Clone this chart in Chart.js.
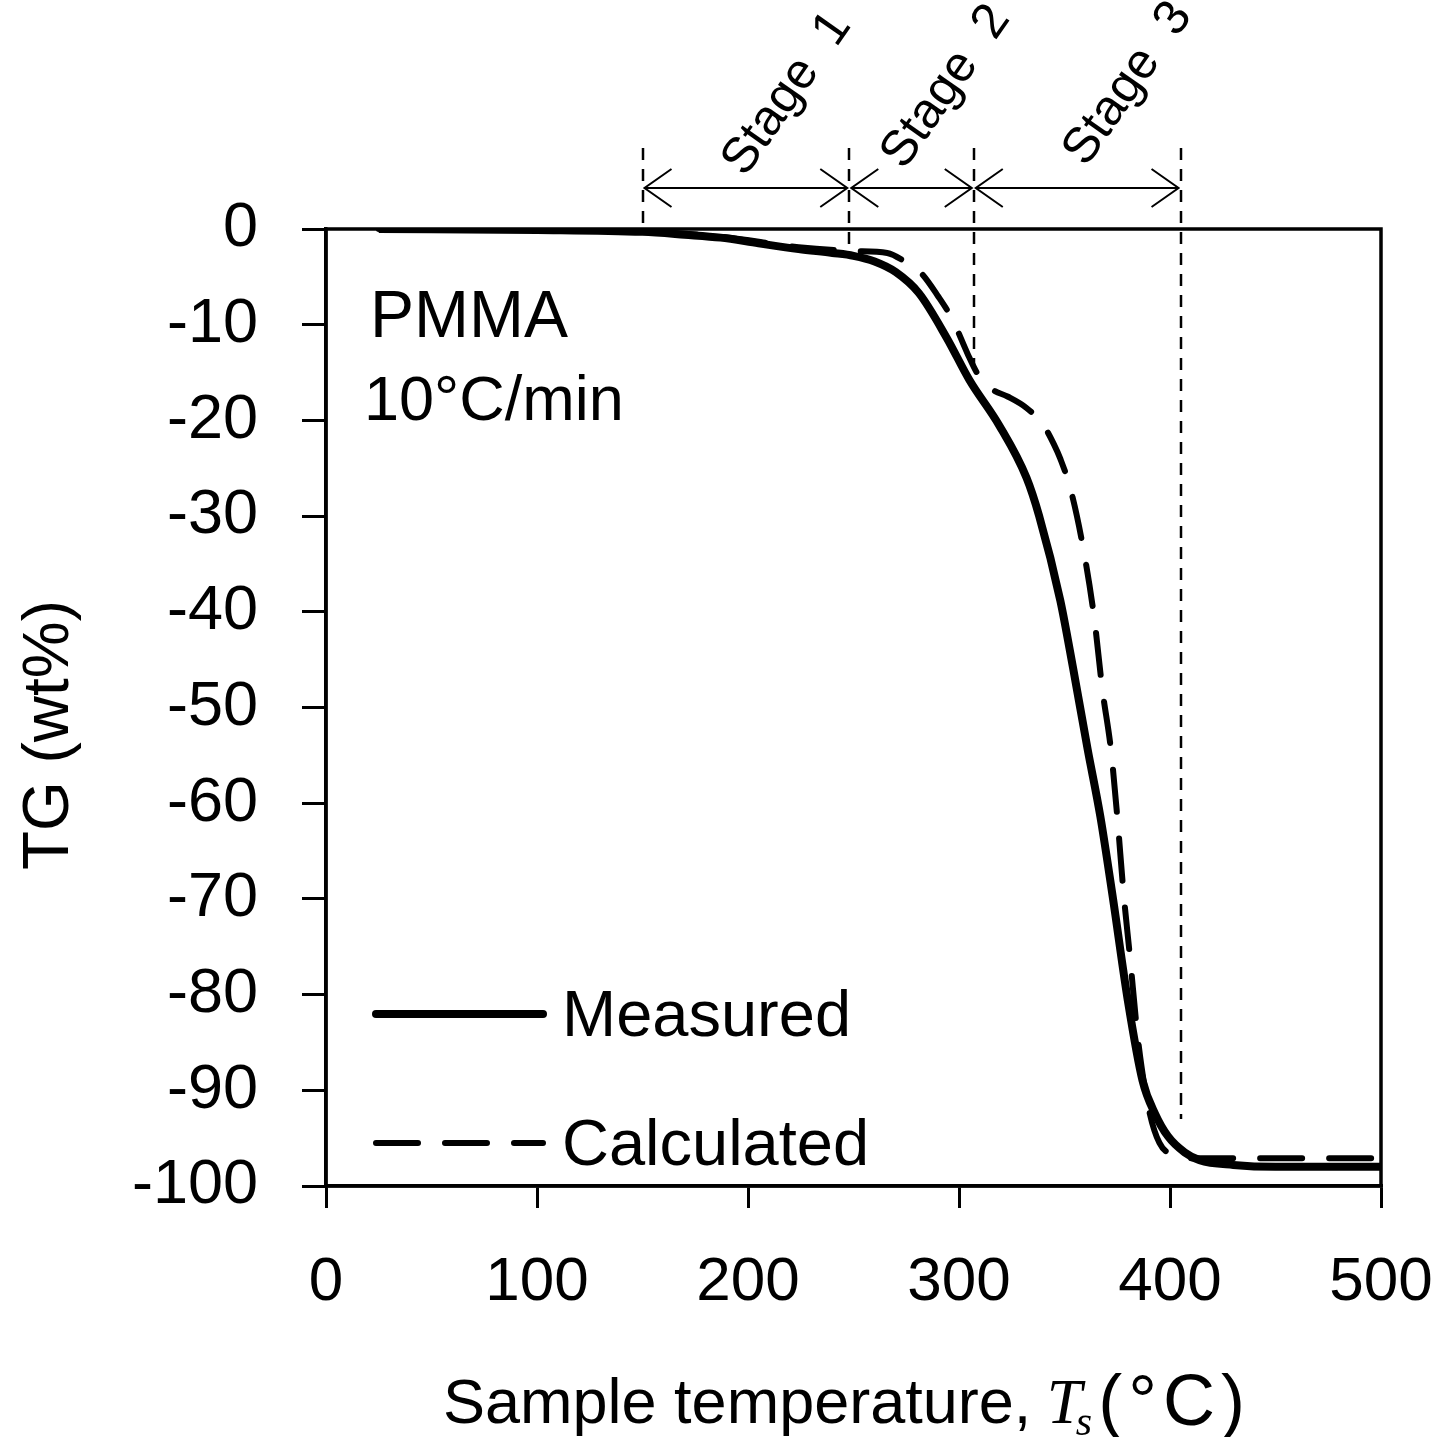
<!DOCTYPE html>
<html>
<head>
<meta charset="utf-8">
<script src="https://cdn.jsdelivr.net/npm/chart.js@4.4.0/dist/chart.umd.min.js"></script>
<style>
    body { margin: 0; background: #fff; }
    #wrap { width: 1452px; height: 1437px; position: relative; }
</style>
</head>
<body>
<div id="wrap"><canvas id="tgChart"></canvas></div>
<script>
// measured TG curve (sample temperature in °C, mass change in wt%)
const measuredTemp = [25, 100, 150, 170, 187, 205, 224, 240, 250, 260, 270, 281, 294, 305, 319, 332, 338, 348, 354, 361, 367, 373, 380, 387, 393, 399, 407, 414, 430, 450, 500];
const measuredTG = [0, -0.1, -0.3, -0.6, -0.9, -1.5, -2.1, -2.5, -2.8, -3.4, -4.5, -6.7, -11.3, -15.8, -20.5, -26, -30, -38.8, -45.8, -54.4, -61.4, -70, -80.6, -89, -92.5, -94.8, -96.5, -97.3, -97.8, -98, -98];

// calculated TG curve
const calcTemp = [25, 150, 187, 224, 250, 266, 275, 282, 290, 297, 304, 309, 316, 323, 332, 340, 345, 348, 353, 359, 364, 368, 372, 375, 378, 381, 385, 390, 395, 402, 410, 500];
const calcTG = [0, -0.3, -0.8, -1.9, -2.3, -2.5, -3.5, -4.6, -7, -9.5, -13, -15.2, -16.8, -17.5, -18.7, -20.5, -22.5, -24, -27.3, -33.5, -40.5, -48.2, -54.4, -61.4, -69.4, -76, -85, -92, -95.5, -96.8, -97.1, -97.1];

// stage boundaries (°C) and where each dashed marker line stops (wt%)
const stageBounds = [150, 248, 307, 405];
const stageLineEnds = [0, -2.4, -15.6, -93];
const stageLabels = ['Stage  1', 'Stage  2', 'Stage  3'];

const sans = '"Liberation Sans", Arial, sans-serif';

const toPoints = (xs, ys) => xs.map((x, i) => ({ x: x, y: ys[i] }));

const overlay = {
    id: 'overlay',
    afterDraw(chart) {
        const ctx = chart.ctx;
        const area = chart.chartArea;
        const xs = chart.scales.x;
        const ys = chart.scales.y;
        ctx.save();

        // frame
        ctx.strokeStyle = '#000';
        ctx.lineWidth = 3.5;
        ctx.strokeRect(area.left, area.top, area.right - area.left, area.bottom - area.top);

        // stage marker lines
        ctx.lineWidth = 2.5;
        ctx.setLineDash([12, 9]);
        stageBounds.forEach((b, i) => {
            const px = Math.round(xs.getPixelForValue(b));
            ctx.beginPath();
            ctx.moveTo(px, 148);
            ctx.lineTo(px, ys.getPixelForValue(stageLineEnds[i]));
            ctx.stroke();
        });
        ctx.setLineDash([]);

        // double arrows
        const ay = 188;
        ctx.lineWidth = 2;
        for (let i = 0; i < stageLabels.length; i++) {
            const x1 = xs.getPixelForValue(stageBounds[i]) + 2;
            const x2 = xs.getPixelForValue(stageBounds[i + 1]) - 2;
            ctx.beginPath();
            ctx.moveTo(x1, ay);
            ctx.lineTo(x2, ay);
            ctx.moveTo(x1 + 27, ay - 19);
            ctx.lineTo(x1, ay);
            ctx.lineTo(x1 + 27, ay + 19);
            ctx.moveTo(x2 - 27, ay - 19);
            ctx.lineTo(x2, ay);
            ctx.lineTo(x2 - 27, ay + 19);
            ctx.stroke();
        }

        // stage labels
        const labelAnchors = [[745, 178], [904, 171], [1086, 168]];
        ctx.fillStyle = '#000';
        ctx.font = '50px ' + sans;
        ctx.textAlign = 'left';
        ctx.textBaseline = 'alphabetic';
        stageLabels.forEach((t, i) => {
            ctx.save();
            ctx.translate(labelAnchors[i][0], labelAnchors[i][1]);
            ctx.rotate(-55 * Math.PI / 180);
            ctx.fillText(t, 0, 0);
            ctx.restore();
        });

        // sample note
        ctx.font = '66px ' + sans;
        ctx.fillText('PMMA', 370, 337);
        ctx.font = '63px ' + sans;
        ctx.fillText('10°C/min', 364, 420);

        // legend
        ctx.font = '65px ' + sans;
        chart.data.datasets.forEach((ds, i) => {
            const ly = i === 0 ? 1014 : 1143;
            ctx.save();
            ctx.strokeStyle = ds.borderColor;
            ctx.lineWidth = ds.borderWidth;
            ctx.lineCap = 'round';
            ctx.setLineDash(ds.borderDash || []);
            ctx.beginPath();
            ctx.moveTo(376, ly);
            ctx.lineTo(543, ly);
            ctx.stroke();
            ctx.restore();
            ctx.fillText(ds.label, 562, ly + 22);
        });

        // y axis title
        ctx.save();
        ctx.translate(68, 735);
        ctx.rotate(-Math.PI / 2);
        ctx.textAlign = 'center';
        ctx.font = '64px ' + sans;
        ctx.fillText('TG (wt%)', 0, 0);
        ctx.restore();

        // x axis title with italic T and subscript s
        const by = 1423;
        let cx = 443;
        ctx.font = '63px ' + sans;
        ctx.fillText('Sample temperature, ', cx, by);
        cx += ctx.measureText('Sample temperature, ').width - 2;
        ctx.font = 'italic 63px "Liberation Serif", "Times New Roman", serif';
        ctx.fillText('T', cx, by);
        cx += ctx.measureText('T').width - 6;
        ctx.font = 'italic 42px "Liberation Serif", "Times New Roman", serif';
        ctx.fillText('s', cx, by + 12);
        cx += ctx.measureText('s').width + 6;
        ctx.font = '72px ' + sans;
        ctx.letterSpacing = '6px';
        ctx.fillText('(°C)', cx, by + 2);
        ctx.letterSpacing = '0px';

        ctx.restore();
    }
};

new Chart(document.getElementById('tgChart').getContext('2d'), {
    type: 'line',
    data: {
        datasets: [{
            label: 'Measured',
            data: toPoints(measuredTemp, measuredTG),
            borderColor: '#000',
            borderWidth: 8,
            pointRadius: 0,
            fill: false,
            cubicInterpolationMode: 'monotone',
        }, {
            label: 'Calculated',
            data: toPoints(calcTemp, calcTG),
            borderColor: '#000',
            borderWidth: 6,
            borderDash: [42, 27],
            borderCapStyle: 'round',
            pointRadius: 0,
            fill: false,
            cubicInterpolationMode: 'monotone',
        }],
    },
    options: {
        responsive: true,
        maintainAspectRatio: false,
        animation: false,
        layout: {
            padding: { top: 229, right: 71, left: 0, bottom: 0 },
        },
        scales: {
            x: {
                type: 'linear',
                min: 0,
                max: 500,
                afterFit: s => { s.height = 251; s.paddingLeft = 0; s.paddingRight = 0; },
                ticks: {
                    stepSize: 100,
                    color: '#000',
                    padding: 38,
                    maxRotation: 0,
                    font: { size: 62, family: sans },
                },
                grid: {
                    drawOnChartArea: false,
                    drawTicks: true,
                    tickLength: 22,
                    color: '#000',
                    lineWidth: 3,
                },
                border: { display: true, color: '#000', width: 3.5 },
            },
            y: {
                min: -100,
                max: 0,
                afterFit: s => { s.width = 326; s.paddingTop = 0; s.paddingBottom = 0; },
                ticks: {
                    stepSize: 10,
                    color: '#000',
                    padding: 44,
                    font: { size: 63, family: sans },
                },
                grid: {
                    drawOnChartArea: false,
                    drawTicks: true,
                    tickLength: 24,
                    color: '#000',
                    lineWidth: 3,
                },
                border: { display: true, color: '#000', width: 3.5 },
            },
        },
        plugins: {
            legend: { display: false },
            tooltip: { enabled: false },
        },
    },
    plugins: [overlay],
});
</script>
</body>
</html>
